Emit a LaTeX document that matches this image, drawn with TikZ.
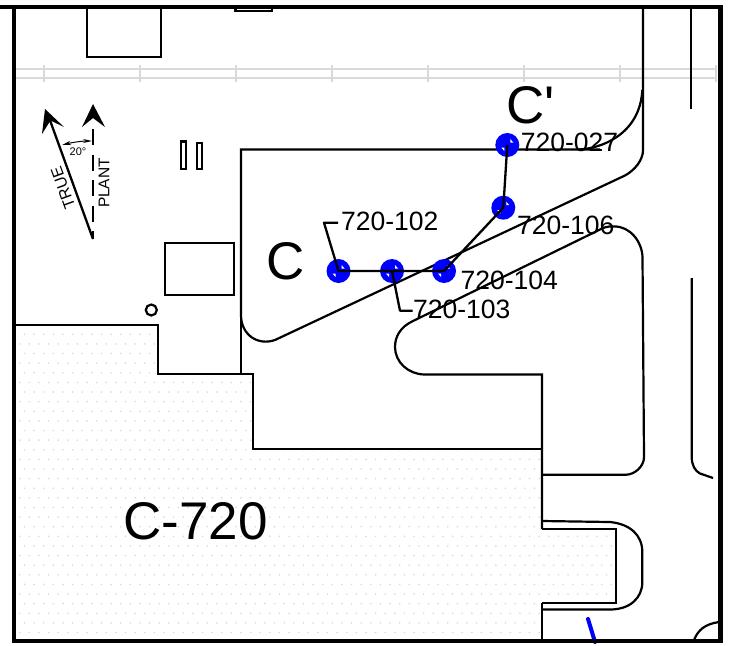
\documentclass[tikz,border=0pt]{standalone}
\usepackage{fontspec}
\setmainfont{Liberation Sans}
\newfontfamily\straightfont{Liberation Sans}
\usetikzlibrary{arrows.meta}
\tikzset{
  wall/.style={draw=black,line width=2.2pt,line join=miter},
  border/.style={draw=black,line width=4pt},
  rail/.style={draw=black!15,line width=1.6pt},
  well/.style={circle,fill=blue,minimum size=24pt,inner sep=0pt},
  lead/.style={draw=black,line width=2.3pt,line join=round},
  lab/.style={inner sep=0pt,anchor=west,font=\fontsize{26.5pt}{26.5pt}\selectfont},
  sect/.style={inner sep=0pt,font=\fontsize{53pt}{53pt}\selectfont}
}
\begin{document}
\begin{tikzpicture}[x=1pt,y=-1pt]
\useasboundingbox (0,0) rectangle (735,645);
% stippled building
\begin{scope}
\clip (15,325) -- (158,325) -- (158,373) -- (253,373) -- (253,449) -- (542,449) -- (542,529) -- (616,529) -- (616,603) -- (542,603) -- (542,640) -- (15,640) -- cycle;
\foreach \r in {0,...,32}{
  \foreach \c in {0,...,63}{
    \fill[black!14] ({19.7+\c*9.62+(1-mod(\r,2))*4.8},{334.3+\r*9.62}) circle (0.95);
  }
}
\end{scope}
% rail
\draw[rail] (15,69) -- (717,69);
\draw[rail] (15,77.7) -- (717,77.7);
\foreach \x in {44,140,236,332,428,524,620,716}{\draw[rail] (\x,65) -- (\x,82);}
% top boxes
\draw[wall] (87.3,8) -- (87.3,57.3) -- (160.7,57.3) -- (160.7,8);
\draw[wall] (235.5,8) -- (235.5,11) -- (272,11) -- (272,8);
% road top right
\draw[wall] (643,8) -- (643,150) .. controls (643,160) and (635,170) .. (625,175.5) -- (275,340) .. controls (258,346) and (241,335) .. (241,315) -- (241,149.5) -- (600,149.5);
\draw[wall] (578,149.5) .. controls (600,149) and (640,135) .. (642.3,90);
\draw[wall] (691,8) -- (691,109);
% lower road island
\draw[wall] (614,226.5) .. controls (630,226) and (642.5,242) .. (642.5,258) -- (644,457) .. controls (644,467) and (634,474.7) .. (626,474.7) -- (542,474.7);
\draw[wall] (614,226.5) .. controls (606,226) and (603,228) .. (597,231) -- (413,321) .. controls (400,327) and (395,337) .. (395,347) .. controls (395,362) and (408,374) .. (424,374.5) -- (542,374.5) -- (542,529);
\draw[wall] (542,603) -- (542,640);
% right curb
\draw[wall] (691.7,278) -- (691.7,457) .. controls (691.7,465) and (695,471) .. (700,473.5) -- (713,478);
% left building outline
\draw[wall] (15,325) -- (158,325) -- (158,373.7) -- (253,373.7) -- (253,449) -- (542,449);
\draw[wall] (241,315) -- (241,373.5);
% dock
\draw[wall] (542,529) -- (616.3,529) -- (616.3,603) -- (542,603);
\draw[wall] (542,521) -- (610,522) .. controls (630,524) and (642.3,535) .. (642.3,552) -- (642.3,582) .. controls (642.3,598) and (630,609.5) .. (610,609.5) -- (542,609.5);
\draw[wall] (694,640) .. controls (698,630) and (705,624) .. (719,622);
% blue stub
\draw[draw=blue,line width=4pt,line cap=round] (588,619) -- (595,642);
% small items
\draw[wall] (165,243.3) rectangle (234.3,295.3);
\draw[wall] (181,141.5) rectangle (186,168.8);
\draw[wall] (196.7,142.8) rectangle (201.7,168.6);
\node[circle,draw=black,line width=2.2pt,minimum size=11pt,inner sep=0pt] (mh) at (151.3,310) {};
% wells
\node[well] (w027) at (507.3,145) {};
\node[well] (w106) at (503.3,207.7) {};
\node[well] (w102) at (338.5,271) {};
\node[well] (w103) at (392,271) {};
\node[well] (w104) at (444,271) {};
\foreach \n in {w027,w106,w102,w103,w104}{
  \begin{scope}[shift={(\n.center)}]
    \fill[white] (3,-2.5) -- (3,-6) -- (6,-2.5) -- cycle;
    \fill[white] (-3,2.5) -- (-3,6) -- (-6,2.5) -- cycle;
  \end{scope}
}
% labels
\node[lab] (l102) at (341,221) {720-102};
\node[lab] (l103) at (413,309) {720-103};
\node[lab] (l104) at (460.5,280.5) {720-104};
\node[lab] (l106) at (517,225.5) {720-106};
\node[lab] (l027) at (520.7,142.7) {720-027};
\node[sect] (c) at (285.5,261) {C};
\node[sect] (cp) at (530.5,105) {\straightfont C'};
\node[sect] (bldg) at (195.5,521) {C-720};
% leaders
\coordinate (a102) at (324,222.7);
\coordinate (b102) at (338,222.7);
\coordinate (a103) at (400,310.7);
\coordinate (b103) at (412.5,310.7);
\draw[lead] (b102) -- (a102) -- (w102.center) -- (w104.center) -- (w106.center) -- (w027.center);
\draw[lead] (w103.center) -- (a103) -- (b103);
% north arrows
\coordinate (n0) at (93,239);
\coordinate (nt) at (47,112);
\coordinate (ntop) at (93,129);
\draw[draw=black,line width=2.3pt] (n0) -- (nt);
\draw[draw=black,line width=2.3pt,dash pattern=on 16pt off 9.5pt] (ntop) -- (n0);
\fill (45,109) -- (64,127) -- (50.5,120.5) -- (42,134) -- cycle;
\fill (93,104) -- (105,127) -- (93,118) -- (82,127) -- cycle;
\draw[draw=black,line width=1pt,{Stealth[length=9pt,width=4pt]}-{Stealth[length=9pt,width=4pt]}] (62,145) .. controls (72,142.5) and (82,141) .. (92,141);
\node[inner sep=0pt,font=\fontsize{11pt}{11pt}\selectfont] (ang) at (78,152) {20°};
\node[inner sep=0pt,rotate=90,font=\fontsize{15.5pt}{15.5pt}\selectfont] (plant) at (104,183) {PLANT};
\node[inner sep=0pt,rotate=110,font=\fontsize{16pt}{16pt}\selectfont] (true) at (63,188) {TRUE};
% border
\draw[border,line cap=round] (0,7) -- (720,7);
\draw[border] (13.5,7) -- (13.5,641);
\draw[draw=black,line width=5pt] (720,5) -- (720,641);
\draw[draw=black,line width=4pt] (11.5,641) -- (722.5,641);
\end{tikzpicture}
\end{document}
